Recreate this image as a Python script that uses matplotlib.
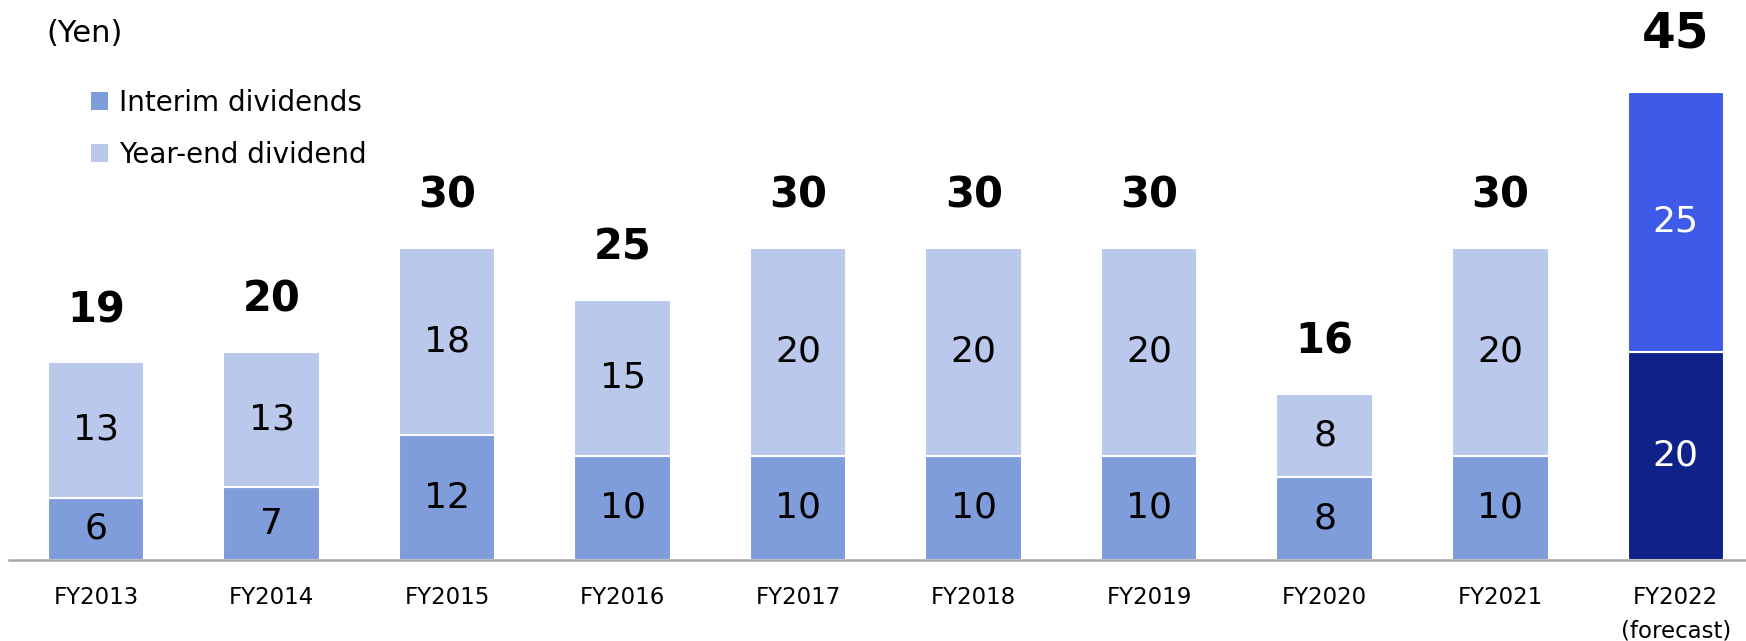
import matplotlib
matplotlib.use("Agg")
import matplotlib.pyplot as plt
from matplotlib.patches import Patch

categories = ["FY2013", "FY2014", "FY2015", "FY2016", "FY2017", "FY2018",
              "FY2019", "FY2020", "FY2021", "FY2022\n(forecast)"]
interim = [6, 7, 12, 10, 10, 10, 10, 8, 10, 20]
year_end = [13, 13, 18, 15, 20, 20, 20, 8, 20, 25]
totals = [19, 20, 30, 25, 30, 30, 30, 16, 30, 45]

c_int = "#7F9CDB"
c_ye = "#BAC8EC"
c_int_fc = "#10218A"
c_ye_fc = "#3F5AE8"

plt.rcParams['font.family'] = ['DejaVu Sans']

W, H = 1746, 641
fig = plt.figure(figsize=(W / 100, H / 100), dpi=100)
base_y = 560
ax = fig.add_axes([9 / W, (H - base_y) / H, 1 - 9 / W, base_y / H])

x = list(range(len(categories)))
n = len(categories)
int_colors = [c_int] * (n - 1) + [c_int_fc]
ye_colors = [c_ye] * (n - 1) + [c_ye_fc]
bw = 0.55
ax.bar(x, interim, width=bw, color=int_colors, edgecolor="white", linewidth=1.5)
ax.bar(x, year_end, width=bw, bottom=interim, color=ye_colors, edgecolor="white", linewidth=1.5)

ax.set_xlim(-0.496, 9.40)
ax.set_ylim(0, base_y / 10.4)

for i in range(n):
    tc = "white" if i == n - 1 else "black"
    ax.text(i, interim[i] / 2, str(interim[i]), ha="center", va="center",
            fontsize=26, color=tc)
    ax.text(i, interim[i] + year_end[i] / 2, str(year_end[i]), ha="center",
            va="center", fontsize=26, color=tc)
    big = i == n - 1
    ax.annotate(str(totals[i]), (i, totals[i]), xytext=(0, 58 if big else 52),
                textcoords="offset pixels", ha="center", va="center",
                fontsize=35 if big else 30, fontweight="bold", color="black")

for s in ["top", "right", "left"]:
    ax.spines[s].set_visible(False)
ax.spines["bottom"].set_color("#A6A6A6")
ax.spines["bottom"].set_linewidth(1.8)
ax.set_yticks([])
ax.set_xticks(x)
ax.set_xticklabels(categories, fontsize=16.5, linespacing=1.55)
ax.tick_params(axis="x", length=0, pad=19)

fig.text(46 / W, 1 - 33 / H, "(Yen)", fontsize=22, ha="left", va="center")

handles = [Patch(facecolor=c_int, edgecolor="none"),
           Patch(facecolor=c_ye, edgecolor="none")]
fig.legend(handles, ["Interim dividends", "Year-end dividend"],
           loc="upper left", bbox_to_anchor=(91 / W, 1 - 89 / H),
           frameon=False, fontsize=20, handlelength=0.6, handleheight=0.6,
           handletextpad=0.4, labelspacing=0.85, borderaxespad=0, borderpad=0)

fig.savefig("out.png", dpi=100)
